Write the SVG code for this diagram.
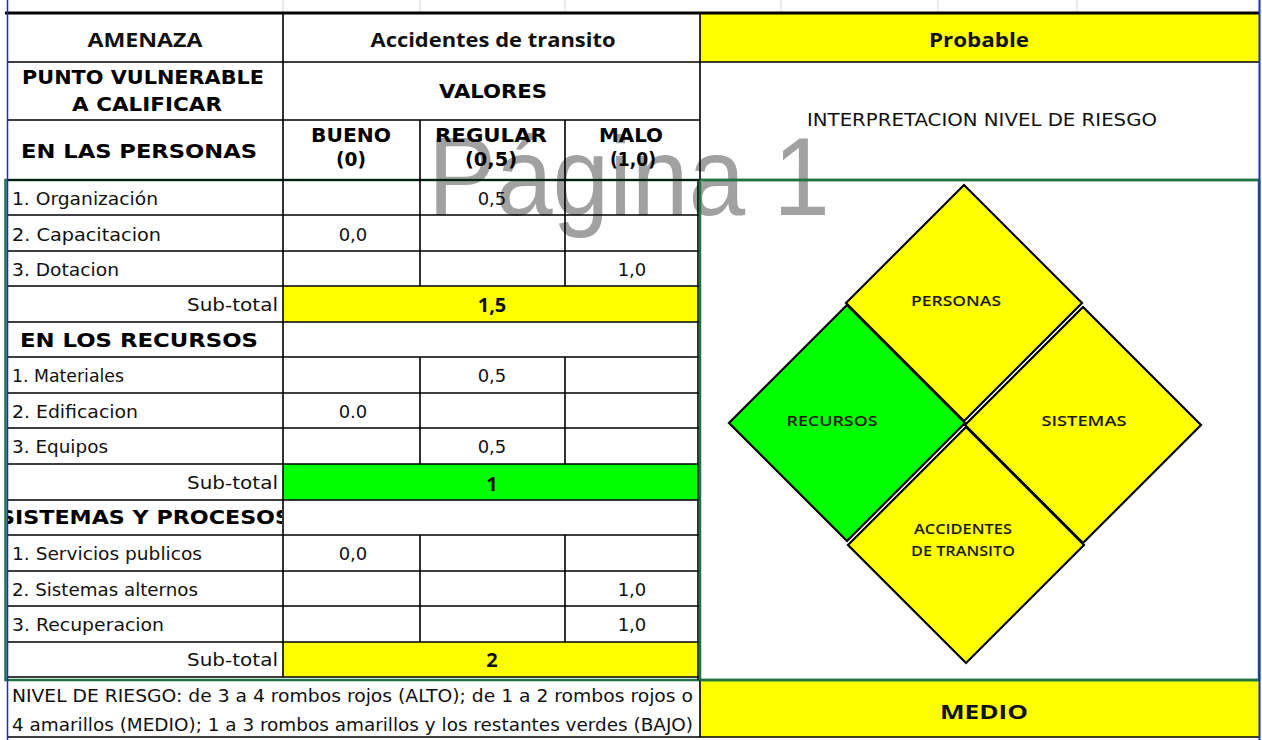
<svg xmlns="http://www.w3.org/2000/svg" width="1262" height="740" viewBox="0 0 1262 740">
<defs>
<style>
.t{font-family:"DejaVu Sans","Liberation Sans",sans-serif;font-size:18px;fill:#111}
.tb{font-family:"DejaVu Sans","Liberation Sans",sans-serif;font-size:19px;font-weight:bold;fill:#000}
.c{font-family:"Open Sans","Liberation Sans",sans-serif;font-weight:bold;fill:#111;font-size:20px}
.d{font-family:"Open Sans","Liberation Sans",sans-serif;font-size:15px;font-weight:600;fill:#1a1a00}
.m{text-anchor:middle}
.ln{stroke:#000;stroke-width:1.6;fill:none}
.grid{stroke:#d4d4d4;stroke-width:1}
.dia{stroke:#000;stroke-width:2.2;stroke-linejoin:miter}
.y{fill:#ffff00}
.g{fill:#00ff00}
</style>
<clipPath id="clipS"><rect x="8" y="500" width="274" height="35"/></clipPath>
</defs>
<rect width="1262" height="740" fill="#fff"/>
<g id="gridlines">
<line class="grid" x1="283" y1="0" x2="283" y2="12"/>
<line class="grid" x1="420" y1="0" x2="420" y2="12"/>
<line class="grid" x1="565" y1="0" x2="565" y2="12"/>
<line class="grid" x1="781" y1="0" x2="781" y2="12"/>
<line class="grid" x1="938" y1="0" x2="938" y2="12"/>
<line class="grid" x1="1077" y1="0" x2="1077" y2="12"/>
</g>
<g id="fills">
<rect class="y" x="700" y="14" width="559" height="48"/>
<rect class="y" x="283" y="286" width="417" height="36"/>
<rect class="g" x="283" y="464" width="417" height="36"/>
<rect class="y" x="283" y="642" width="417" height="35"/>
<rect class="y" x="700" y="680" width="559" height="57"/>
</g>
<text id="watermark" x="428" y="215" font-family="Liberation Sans, Arial, sans-serif" font-size="112" fill="#8a8a8a" fill-opacity="0.8" textLength="402" lengthAdjust="spacingAndGlyphs">Página 1</text>
<g id="selection">
<rect x="5.5" y="180" width="1253.5" height="500" fill="none" stroke="#217346" stroke-width="2.5"/>
</g>
<g id="borders">
<line x1="5" y1="13" x2="1259" y2="13" stroke="#000" stroke-width="3"/>
<path class="ln" d="M7 62H1259M7 120H700M7 180H700M7 215H700M7 251H700M7 286H700M7 322H700M7 357H700M7 393H700M7 428H700M7 464H700M7 500H700M7 535H700M7 571H700M7 606H700M7 642H700M7 677H700M7 737H1259"/>
<path class="ln" d="M283 14V677M420 120V286M565 120V286M420 357V464M565 357V464M420 535V642M565 535V642M700 14V180M700 677V737M698 180V680"/>
<line x1="700" y1="180" x2="1259" y2="180" stroke="#217346" stroke-width="2.5"/>
<line x1="700" y1="680" x2="1259" y2="680" stroke="#217346" stroke-width="2.5"/>
<line x1="700" y1="180" x2="700" y2="680" stroke="#217346" stroke-width="2.5"/>
<line x1="7.5" y1="0" x2="7.5" y2="740" stroke="#1a2bd0" stroke-width="1.5"/>
<line x1="1259.5" y1="0" x2="1259.5" y2="740" stroke="#1a2bd0" stroke-width="2"/>
</g>
<g id="header">
<text class="c m" x="145" y="47" textLength="115" lengthAdjust="spacingAndGlyphs">AMENAZA</text>
<text class="c m" x="493" y="47" textLength="245" lengthAdjust="spacingAndGlyphs">Accidentes de transito</text>
<text class="c m" x="979" y="47" textLength="100" lengthAdjust="spacingAndGlyphs">Probable</text>
<text class="tb m" x="143" y="84" textLength="242" lengthAdjust="spacingAndGlyphs">PUNTO VULNERABLE</text>
<text class="tb m" x="147" y="111" textLength="150" lengthAdjust="spacingAndGlyphs">A CALIFICAR</text>
<text class="tb m" x="493" y="98" textLength="108" lengthAdjust="spacingAndGlyphs">VALORES</text>
<text class="tb m" x="139" y="158" textLength="236" lengthAdjust="spacingAndGlyphs">EN LAS PERSONAS</text>
<text class="tb m" x="351" y="142" textLength="80" lengthAdjust="spacingAndGlyphs">BUENO</text>
<text class="tb m" x="351" y="166" textLength="30" lengthAdjust="spacingAndGlyphs">(0)</text>
<text class="tb m" x="491" y="142" textLength="112" lengthAdjust="spacingAndGlyphs">REGULAR</text>
<text class="tb m" x="491" y="166" textLength="52" lengthAdjust="spacingAndGlyphs">(0,5)</text>
<text class="tb m" x="631" y="142" textLength="64" lengthAdjust="spacingAndGlyphs">MALO</text>
<text class="tb m" x="633" y="166" textLength="46" lengthAdjust="spacingAndGlyphs">(1,0)</text>
<text class="t m" x="982" y="126" textLength="350" lengthAdjust="spacingAndGlyphs">INTERPRETACION NIVEL DE RIESGO</text>
</g>
<g id="personas-rows">
<text class="t" x="12" y="205" textLength="146" lengthAdjust="spacingAndGlyphs">1. Organización</text>
<text class="t m" x="492" y="205">0,5</text>
<text class="t" x="12" y="241" textLength="149" lengthAdjust="spacingAndGlyphs">2. Capacitacion</text>
<text class="t m" x="353" y="241">0,0</text>
<text class="t" x="12" y="276" textLength="107" lengthAdjust="spacingAndGlyphs">3. Dotacion</text>
<text class="t m" x="632" y="276">1,0</text>
<text class="t" x="278" y="311" text-anchor="end" textLength="91" lengthAdjust="spacingAndGlyphs">Sub-total</text>
<text class="c m" x="492" y="312">1,5</text>
</g>
<g id="recursos-rows">
<text class="tb m" x="139" y="347" textLength="238" lengthAdjust="spacingAndGlyphs">EN LOS RECURSOS</text>
<text class="t" x="12" y="382" textLength="112" lengthAdjust="spacingAndGlyphs">1. Materiales</text>
<text class="t m" x="492" y="382">0,5</text>
<text class="t" x="12" y="418" textLength="126" lengthAdjust="spacingAndGlyphs">2. Edificacion</text>
<text class="t m" x="353" y="418">0.0</text>
<text class="t" x="12" y="453" textLength="96" lengthAdjust="spacingAndGlyphs">3. Equipos</text>
<text class="t m" x="492" y="453">0,5</text>
<text class="t" x="278" y="489" text-anchor="end" textLength="91" lengthAdjust="spacingAndGlyphs">Sub-total</text>
<text class="c m" x="492" y="491">1</text>
</g>
<g id="sistemas-rows">
<text class="tb m" x="145" y="524" textLength="292" lengthAdjust="spacingAndGlyphs" clip-path="url(#clipS)">SISTEMAS Y PROCESOS</text>
<text class="t" x="12" y="560" textLength="190" lengthAdjust="spacingAndGlyphs">1. Servicios publicos</text>
<text class="t m" x="353" y="560">0,0</text>
<text class="t" x="12" y="596" textLength="186" lengthAdjust="spacingAndGlyphs">2. Sistemas alternos</text>
<text class="t m" x="632" y="596">1,0</text>
<text class="t" x="12" y="631" textLength="152" lengthAdjust="spacingAndGlyphs">3. Recuperacion</text>
<text class="t m" x="632" y="631">1,0</text>
<text class="t" x="278" y="666" text-anchor="end" textLength="91" lengthAdjust="spacingAndGlyphs">Sub-total</text>
<text class="c m" x="492" y="667">2</text>
</g>
<g id="nivel-note">
<text class="t" x="12" y="702" textLength="681" lengthAdjust="spacingAndGlyphs">NIVEL DE RIESGO: de 3 a 4 rombos rojos (ALTO); de 1 a 2 rombos rojos o</text>
<text class="t" x="12" y="731" textLength="681" lengthAdjust="spacingAndGlyphs">4 amarillos (MEDIO); 1 a 3 rombos amarillos y los restantes verdes (BAJO)</text>
</g>
<g id="diamond-recursos">
<polygon class="dia g" points="847,305 965,423 847,541 729,423"/>
<text class="d m" x="832" y="426" textLength="91" lengthAdjust="spacingAndGlyphs">RECURSOS</text>
</g>
<g id="diamond-personas">
<polygon class="dia y" points="964,185 1082,303 964,421 846,303"/>
<text class="d m" x="956" y="306" textLength="90" lengthAdjust="spacingAndGlyphs">PERSONAS</text>
</g>
<g id="diamond-sistemas">
<polygon class="dia y" points="1083,307 1201,425 1083,543 965,425"/>
<text class="d m" x="1084" y="426" textLength="85" lengthAdjust="spacingAndGlyphs">SISTEMAS</text>
</g>
<g id="diamond-accidentes">
<polygon class="dia y" points="966,427 1084,545 966,663 848,545"/>
<text class="d m" x="963" y="534" textLength="98" lengthAdjust="spacingAndGlyphs">ACCIDENTES</text>
<text class="d m" x="963" y="556" textLength="104" lengthAdjust="spacingAndGlyphs">DE TRANSITO</text>
</g>
<g id="medio">
<text class="c m" x="984" y="719" font-size="24" textLength="88" lengthAdjust="spacingAndGlyphs">MEDIO</text>
</g>
</svg>
